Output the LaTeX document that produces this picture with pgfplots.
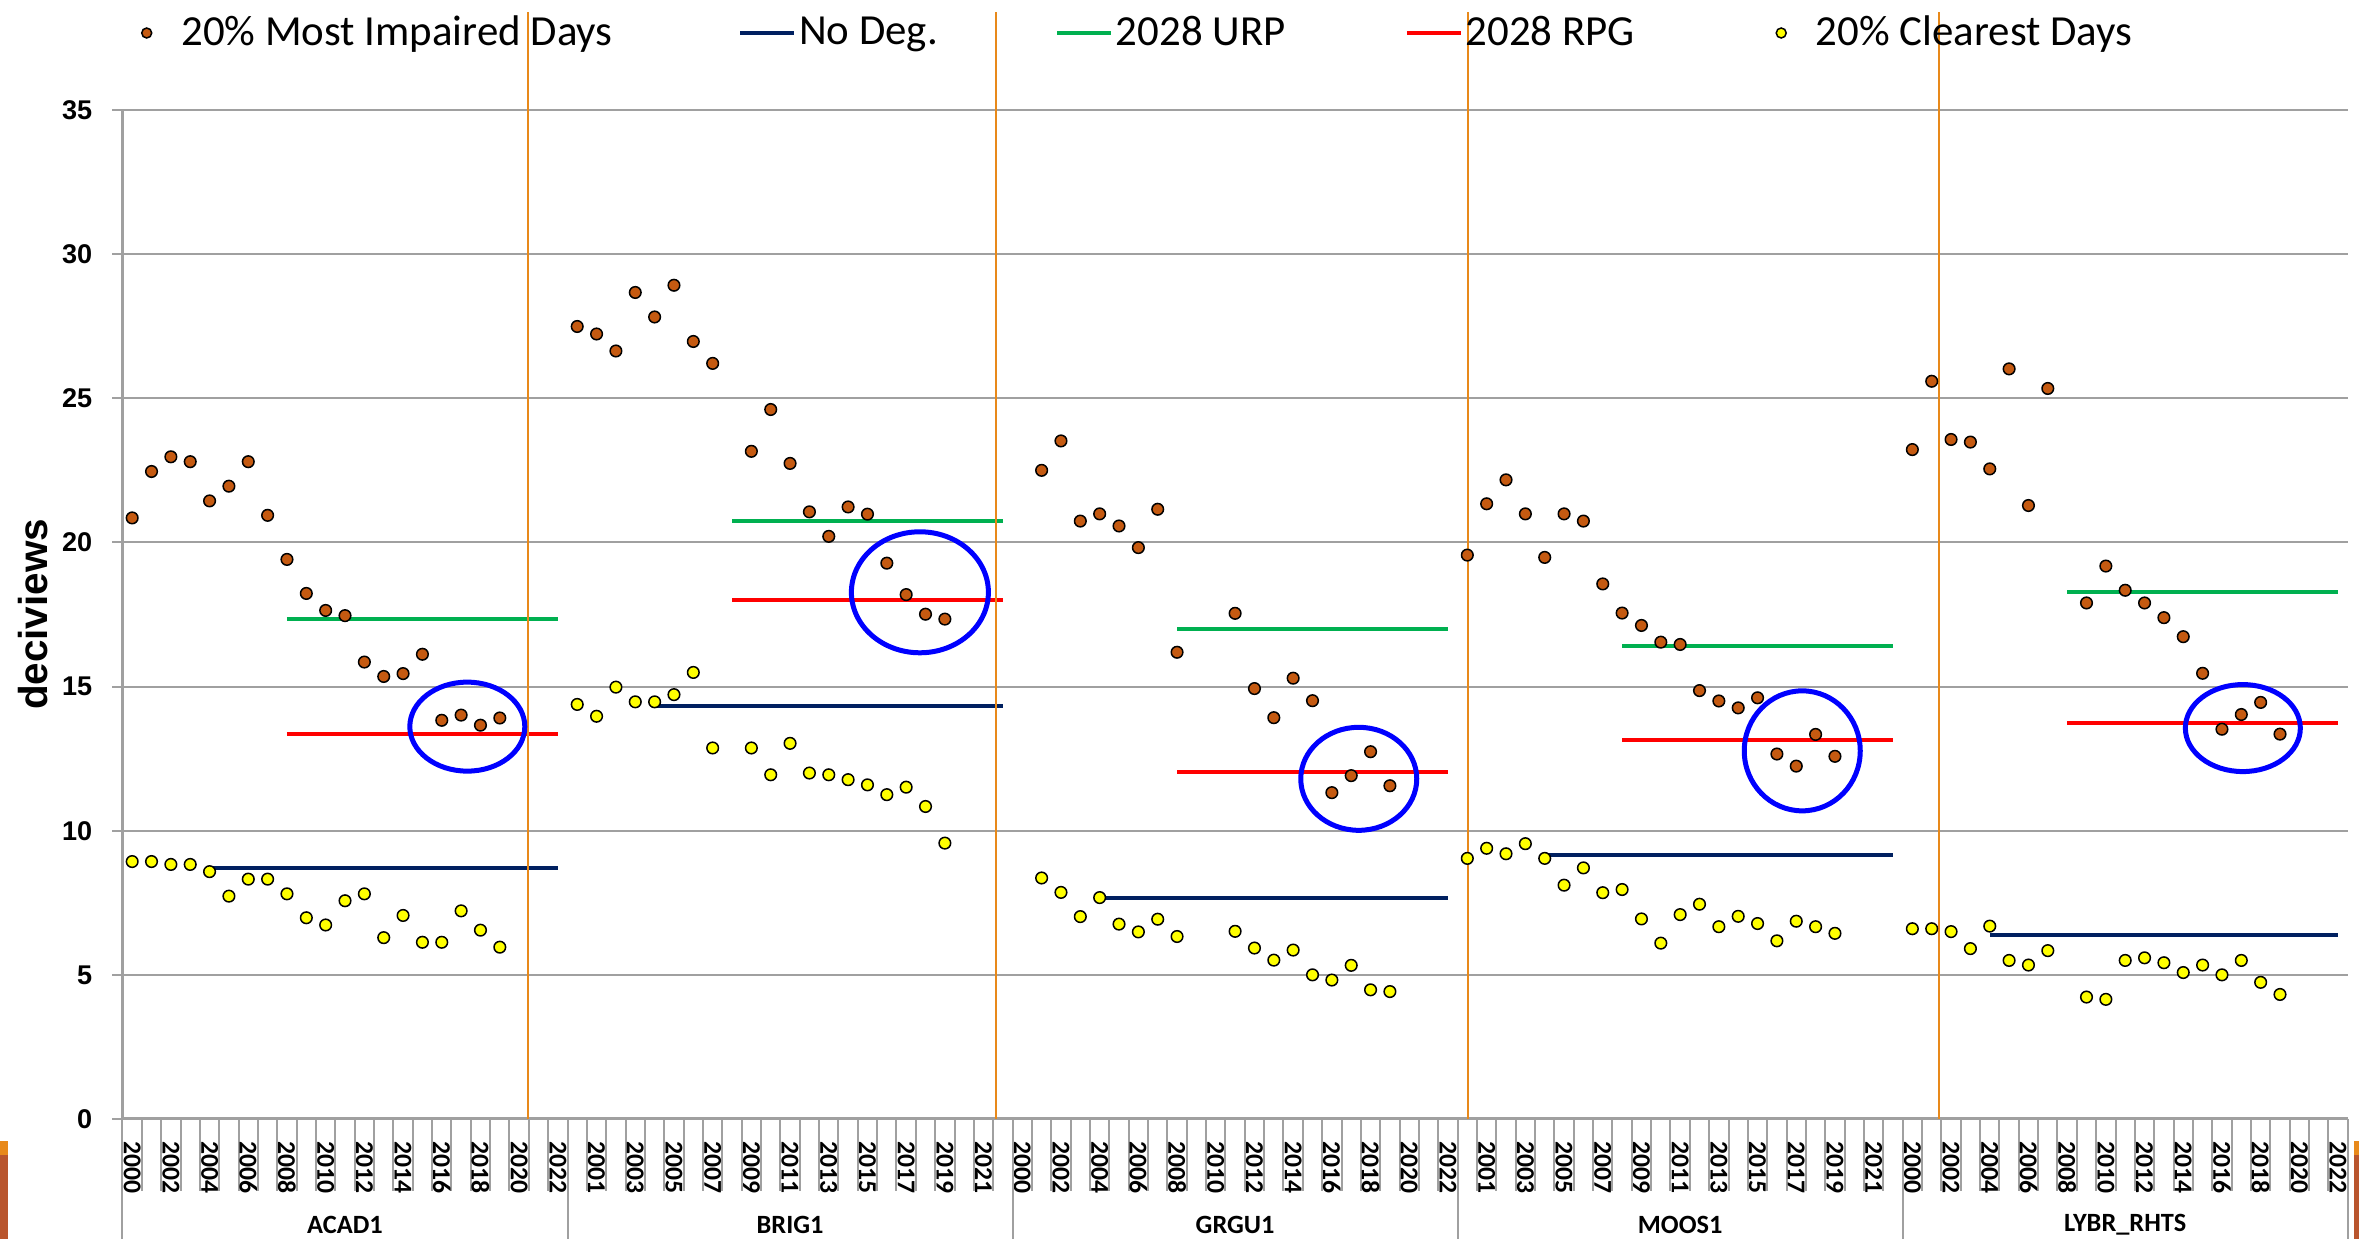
\documentclass[border=0pt]{standalone}
\usepackage{pgfplots}
\pgfplotsset{compat=1.18}
\usepackage{fontspec}
\setmainfont{Carlito}
\newfontfamily\arialfont{Liberation Sans}
\definecolor{impair}{RGB}{197,90,17}
\definecolor{clearc}{RGB}{255,255,0}
\definecolor{nodeg}{RGB}{0,32,96}
\definecolor{urp}{RGB}{0,176,80}
\definecolor{rpg}{RGB}{255,0,0}
\definecolor{orng}{RGB}{232,137,26}
\definecolor{rust}{RGB}{185,85,45}
\definecolor{gridgray}{RGB}{160,160,160}
\definecolor{ellblue}{RGB}{0,0,255}
\begin{document}
\begin{tikzpicture}
\begin{axis}[
  at={(0,0)}, anchor=south west,
  scale only axis,
  width=222.52mm, height=100.9mm,
  xmin=-0.5, xmax=114.5, ymin=0, ymax=35,
  clip=false,
  axis x line*=bottom, axis y line*=left,
  axis line style={gridgray, line width=0.3mm},
  ytick={0,5,...,35},
  ymajorgrids=true,
  grid style={gridgray, line width=0.2mm},
  tick align=outside,
  major tick length=1mm,
  minor tick length=7.2mm,
  major x tick style={draw=none},
  minor x tick style={gridgray, line width=0.2mm},
  major y tick style={gridgray, line width=0.2mm},
  xtick={0,2,...,114},
  minor xtick={-0.5,0.5,...,114.5},
  xticklabels={2000,2002,2004,2006,2008,2010,2012,2014,2016,2018,2020,2022,
    2001,2003,2005,2007,2009,2011,2013,2015,2017,2019,2021,
    2000,2002,2004,2006,2008,2010,2012,2014,2016,2018,2020,2022,
    2001,2003,2005,2007,2009,2011,2013,2015,2017,2019,2021,
    2000,2002,2004,2006,2008,2010,2012,2014,2016,2018,2020,2022},
  xticklabel style={font=\bfseries\fontsize{7.3}{8}\selectfont, rotate=-90, anchor=west, inner sep=0pt, xshift=1.2mm},
  yticklabel style={font=\arialfont\bfseries\fontsize{7.7}{9}\selectfont, anchor=east, inner sep=0pt, xshift=-1.95mm},
  /pgf/number format/assume math mode=true,
  ylabel={deciviews},
  ylabel style={at={(axis description cs:-0.0402,0.5)}, anchor=center, font=\arialfont\bfseries\fontsize{11.5}{13}\selectfont},
  legend style={at={(-0.00135,1.0763)}, anchor=west, draw=none, fill=none, inner sep=0pt, outer sep=0pt,
    column sep=0pt, row sep=0pt, font=\fontsize{12.2}{14}\selectfont, nodes={inner sep=0pt}},
  legend cell align=left, legend columns=5,
  unbounded coords=jump,
]
% legend images
\addlegendimage{legend image code/.code={\path (0,0) (6.05mm,0); \draw[black, line width=0.15mm, fill=impair] (2.65mm,0) circle[radius=0.5mm];}}
\addlegendimage{legend image code/.code={\path (0,0) (5.8mm,0); \draw[nodeg, line width=0.4mm] (0,0) -- (5.4mm,0);}}
\addlegendimage{legend image code/.code={\path (0,0) (5.8mm,0); \draw[urp, line width=0.4mm] (0,0) -- (5.4mm,0);}}
\addlegendimage{legend image code/.code={\path (0,0) (5.8mm,0); \draw[rpg, line width=0.4mm] (0,0) -- (5.4mm,0);}}
\addlegendimage{legend image code/.code={\path (0,0) (6.05mm,0); \draw[black, line width=0.15mm, fill=clearc] (2.65mm,0) circle[radius=0.5mm];}}
\legend{\makebox[55.7mm][l]{20\% Most Impaired Days},\makebox[25.6mm][l]{No Deg.},\makebox[28.9mm][l]{2028 URP},\makebox[28.85mm][l]{2028 RPG},20\% Clearest Days}

% No Deg.
\addplot[nodeg, line width=0.4mm, forget plot] coordinates {
 (4,8.71) (22,8.71) (22,nan) (27,14.34) (45,14.34) (45,nan) (50,7.65) (68,7.65) (68,nan)
 (73,9.16) (91,9.16) (91,nan) (96,6.38) (114,6.38)};
% 2028 URP
\addplot[urp, line width=0.4mm, forget plot] coordinates {
 (8,17.36) (22,17.36) (22,nan) (31,20.76) (45,20.76) (45,nan) (54,17.00) (68,17.00) (68,nan)
 (77,16.41) (91,16.41) (91,nan) (100,18.29) (114,18.29)};
% 2028 RPG
\addplot[rpg, line width=0.4mm, forget plot] coordinates {
 (8,13.37) (22,13.37) (22,nan) (31,17.99) (45,17.99) (45,nan) (54,12.02) (68,12.02) (68,nan)
 (77,13.14) (91,13.14) (91,nan) (100,13.74) (114,13.74)};

% 20% Most Impaired Days
\addplot[only marks, mark=*, mark size=0.58mm, mark options={fill=impair, draw=black, line width=0.15mm}, forget plot] coordinates {
 (0,20.85) (1,22.46) (2,22.97) (3,22.80) (4,21.44) (5,21.95) (6,22.80) (7,20.94) (8,19.41) (9,18.23)
 (10,17.64) (11,17.46) (12,15.85) (13,15.35) (14,15.45) (15,16.12) (16,13.83) (17,14.01) (18,13.66) (19,13.91)
 (23,27.49) (24,27.23) (25,26.64) (26,28.67) (27,27.82) (28,28.92) (29,26.97) (30,26.21)
 (32,23.16) (33,24.61) (34,22.74) (35,21.06) (36,20.21) (37,21.23) (38,20.98) (39,19.28) (40,18.19) (41,17.51) (42,17.34)
 (47,22.50) (48,23.52) (49,20.74) (50,20.99) (51,20.57) (52,19.82) (53,21.15) (54,16.19)
 (57,17.54) (58,14.93) (59,13.92) (60,15.29) (61,14.51) (62,11.32) (63,11.91) (64,12.74) (65,11.56)
 (69,19.56) (70,21.34) (71,22.17) (72,20.99) (73,19.48) (74,20.99) (75,20.74) (76,18.56) (77,17.55) (78,17.12)
 (79,16.54) (80,16.46) (81,14.86) (82,14.50) (83,14.26) (84,14.61) (85,12.66) (86,12.24) (87,13.34) (88,12.58)
 (92,23.22) (93,25.59) (94,23.57) (95,23.48) (96,22.55) (97,26.02) (98,21.28) (99,25.34)
 (101,17.90) (102,19.18) (103,18.34) (104,17.90) (105,17.39) (106,16.73) (107,15.46) (108,13.52) (109,14.03) (110,14.45) (111,13.35)
};
% 20% Clearest Days
\addplot[only marks, mark=*, mark size=0.58mm, mark options={fill=clearc, draw=black, line width=0.15mm}, forget plot] coordinates {
 (0,8.93) (1,8.93) (2,8.83) (3,8.83) (4,8.58) (5,7.73) (6,8.32) (7,8.32) (8,7.81) (9,6.98)
 (10,6.73) (11,7.57) (12,7.81) (13,6.29) (14,7.06) (15,6.13) (16,6.13) (17,7.22) (18,6.55) (19,5.96)
 (23,14.38) (24,13.97) (25,14.98) (26,14.47) (27,14.47) (28,14.72) (29,15.49) (30,12.87)
 (32,12.87) (33,11.94) (34,13.03) (35,12.00) (36,11.94) (37,11.77) (38,11.59) (39,11.25) (40,11.51) (41,10.84) (42,9.57)
 (47,8.36) (48,7.86) (49,7.02) (50,7.68) (51,6.76) (52,6.49) (53,6.93) (54,6.33)
 (57,6.51) (58,5.93) (59,5.51) (60,5.86) (61,5.00) (62,4.82) (63,5.33) (64,4.48) (65,4.42)
 (69,9.04) (70,9.39) (71,9.20) (72,9.55) (73,9.04) (74,8.11) (75,8.71) (76,7.85) (77,7.96) (78,6.94)
 (79,6.10) (80,7.09) (81,7.45) (82,6.67) (83,7.03) (84,6.78) (85,6.18) (86,6.86) (87,6.67) (88,6.44)
 (92,6.60) (93,6.60) (94,6.50) (95,5.91) (96,6.69) (97,5.50) (98,5.34) (99,5.84)
 (101,4.23) (102,4.15) (103,5.50) (104,5.59) (105,5.42) (106,5.08) (107,5.34) (108,5.00) (109,5.50) (110,4.74) (111,4.32)
};

% group separators and labels
\draw[gridgray, line width=0.2mm] (axis cs:-0.5,0) -- ([yshift=-12mm]axis cs:-0.5,0);
\draw[gridgray, line width=0.2mm] (axis cs:22.5,0) -- ([yshift=-12mm]axis cs:22.5,0);
\draw[gridgray, line width=0.2mm] (axis cs:45.5,0) -- ([yshift=-12mm]axis cs:45.5,0);
\draw[gridgray, line width=0.2mm] (axis cs:68.5,0) -- ([yshift=-12mm]axis cs:68.5,0);
\draw[gridgray, line width=0.2mm] (axis cs:91.5,0) -- ([yshift=-12mm]axis cs:91.5,0);
\draw[gridgray, line width=0.2mm] (axis cs:114.5,0) -- ([yshift=-12mm]axis cs:114.5,0);
\node[font=\bfseries\fontsize{7.5}{9}\selectfont] at (axis cs:11,0) [yshift=-10.6mm] {ACAD1};
\node[font=\bfseries\fontsize{7.5}{9}\selectfont] at (axis cs:34,0) [yshift=-10.6mm] {BRIG1};
\node[font=\bfseries\fontsize{7.5}{9}\selectfont] at (axis cs:57,0) [yshift=-10.6mm] {GRGU1};
\node[font=\bfseries\fontsize{7.5}{9}\selectfont] at (axis cs:80,0) [yshift=-10.6mm] {MOOS1};
\node[font=\bfseries\fontsize{7.5}{9}\selectfont] at (axis cs:103,0) [yshift=-10.6mm] {LYBR\_RHTS};

% orange marker lines
\draw[orng, line width=0.2mm] (axis cs:20.46,0) -- (axis cs:20.46,38.4);
\draw[orng, line width=0.2mm] (axis cs:44.63,0) -- (axis cs:44.63,38.4);
\draw[orng, line width=0.2mm] (axis cs:69.03,0) -- (axis cs:69.03,38.4);
\draw[orng, line width=0.2mm] (axis cs:93.38,0) -- (axis cs:93.38,38.4);

% blue ellipses
\draw[ellblue, line width=0.5mm] (axis cs:17.32,13.61) ellipse[x radius=5.75mm, y radius=4.45mm];
\draw[ellblue, line width=0.5mm] (axis cs:40.71,18.27) ellipse[x radius=6.85mm, y radius=6.05mm];
\draw[ellblue, line width=0.5mm] (axis cs:63.39,11.80) ellipse[x radius=5.8mm, y radius=5.15mm];
\draw[ellblue, line width=0.5mm] (axis cs:86.31,12.77) ellipse[x radius=5.8mm, y radius=6.0mm];
\draw[ellblue, line width=0.5mm] (axis cs:109.08,13.56) ellipse[x radius=5.75mm, y radius=4.35mm];
\end{axis}
% slide decorations
\fill[orng] (-12.25mm,-2.2mm) rectangle (-11.45mm,-3.6mm);
\fill[rust] (-12.25mm,-3.6mm) rectangle (-11.45mm,-12mm);
\fill[orng] (223.15mm,-2.2mm) rectangle (223.65mm,-3.6mm);
\fill[rust] (223.15mm,-3.6mm) rectangle (223.65mm,-12mm);
\pgfresetboundingbox
\path[use as bounding box] (-12.25mm,-12.0mm) rectangle (223.65mm,111.9mm);
\end{tikzpicture}
\end{document}
